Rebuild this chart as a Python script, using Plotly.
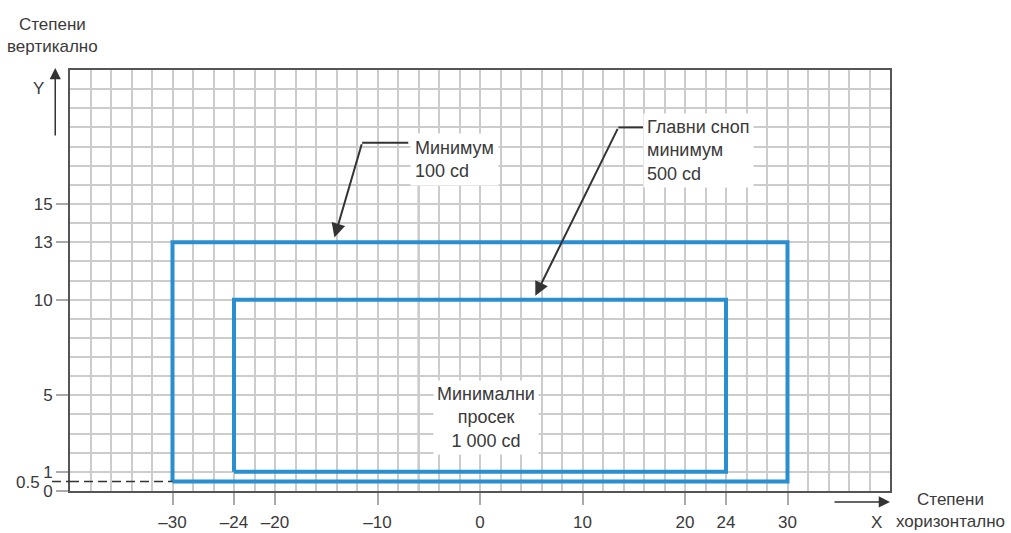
import plotly.graph_objects as go

# ---- data ----
outer_x = [-30, 30]          # minimum 100 cd zone (horizontal degrees)
outer_y = [0.5, 13]          # (vertical degrees)
inner_x = [-24, 24]          # main beam minimum 500 cd
inner_y = [1, 10]
x_tickvals = [-30, -24, -20, -10, 0, 10, 20, 24, 30]
x_ticktext = ["–30", "–24", "–20", "–10", "0", "10", "20", "24", "30"]
y_tickvals = [0, 1, 5, 10, 13, 15]
y_ticktext = ["0", "1", "5", "10", "13", "15"]
x_range = [-40, 40]
y_range = [0, 22]
label_outer = "Минимум<br>100 cd"
label_inner = "Главни сноп<br>минимум<br>500 cd"
label_avg = "Минимални<br>просек<br>1 000 cd"

FONT = "Liberation Sans Narrow, Arial Narrow, Liberation Sans, Arial, sans-serif"
BLUE = "#2a8fd0"
DARK = "#333333"
TXT = "#3a3a3a"
GRID = "#cccccc"


def rect(xs, ys):
    return ([xs[0], xs[1], xs[1], xs[0], xs[0]],
            [ys[0], ys[0], ys[1], ys[1], ys[0]])


fig = go.Figure()
for xs, ys in [(outer_x, outer_y), (inner_x, inner_y)]:
    rx, ry = rect(xs, ys)
    fig.add_trace(go.Scatter(x=rx, y=ry, mode="lines",
                             line=dict(color=BLUE, width=4),
                             hoverinfo="skip", showlegend=False))

shapes = [
    dict(type="line", xref="x", yref="y", x0=-6, x1=-6, y0=0, y1=16,
         line=dict(color="#777777", width=1.5), layer="below"),
    dict(type="line", xref="x", yref="y", x0=x_range[0], x1=outer_x[0],
         y0=outer_y[0], y1=outer_y[0],
         line=dict(color=DARK, width=1.5, dash="9px,5px")),
    dict(type="line", xref="paper", yref="y", x0=-0.022, x1=0,
         y0=outer_y[0], y1=outer_y[0],
         line=dict(color=DARK, width=1.5, dash="9px,5px")),
    dict(type="line", xref="x", yref="y", x0=-11.5, x1=-7.0, y0=18.2, y1=18.2,
         line=dict(color=DARK, width=2)),
    dict(type="line", xref="x", yref="y", x0=13.5, x1=15.9, y0=19.0, y1=19.0,
         line=dict(color=DARK, width=2)),
]

LBL = dict(family=FONT, size=18, color=TXT)
TTL = dict(family=FONT, size=17, color=TXT)

annotations = [
    dict(xref="x", yref="y", x=-6.8, y=17.3, text=label_outer, showarrow=False,
         xanchor="left", yanchor="middle", align="left", bgcolor="white",
         borderpad=4, font=LBL),
    dict(xref="x", yref="y", x=15.9, y=17.8, text=label_inner, showarrow=False,
         xanchor="left", yanchor="middle", align="left", bgcolor="white",
         borderpad=3, font=LBL),
    dict(xref="x", yref="y", x=0.6, y=3.85, text=label_avg, showarrow=False,
         xanchor="center", yanchor="middle", align="center", bgcolor="white",
         borderpad=3, font=LBL),
    dict(xref="x", yref="y", axref="x", ayref="y", x=-14.2, y=13.25,
         ax=-11.5, ay=18.2, text="", showarrow=True, arrowhead=2,
         arrowsize=1.4, arrowwidth=2, arrowcolor=DARK),
    dict(xref="x", yref="y", axref="x", ayref="y", x=5.4, y=10.2,
         ax=13.5, ay=19.0, text="", showarrow=True, arrowhead=2,
         arrowsize=1.4, arrowwidth=2, arrowcolor=DARK),
    dict(xref="paper", yref="paper", x=-0.018, y=1.005, ax=0, ay=69,
         text="", showarrow=True, arrowhead=2, arrowsize=1.5,
         arrowwidth=1.5, arrowcolor=DARK),
    dict(xref="paper", yref="paper", x=1.0, y=-0.026, ax=-57, ay=0,
         text="", showarrow=True, arrowhead=2, arrowsize=1.5,
         arrowwidth=1.5, arrowcolor=DARK),
    dict(xref="paper", yref="paper", x=-0.038, y=0.957, text="Y",
         showarrow=False, xanchor="center", yanchor="middle", font=TTL),
    dict(xref="paper", yref="paper", x=0.984, y=-0.074, text="X",
         showarrow=False, xanchor="center", yanchor="middle", font=TTL),
    dict(xref="paper", yref="paper", x=1.074, y=-0.0475,
         text="Степени<br>хоризонтално", showarrow=False,
         xanchor="center", yanchor="middle", align="center", font=TTL),
    dict(xref="paper", yref="paper", x=-0.021, y=1.083,
         text="Степени<br>вертикално", showarrow=False,
         xanchor="center", yanchor="middle", align="center", font=TTL),
    dict(xref="paper", yref="y", x=-0.034, y=0.45, text="0.5",
         showarrow=False, xanchor="right", yanchor="middle",
         font=dict(family=FONT, size=17, color=TXT)),
]

AX = dict(ticks="outside", ticklen=12, tickwidth=1.5, tickcolor="#aaaaaa",
          showgrid=True, gridcolor=GRID, gridwidth=1.5,
          showline=True, linecolor="#555555", linewidth=2, mirror=True,
          zeroline=False, fixedrange=True, automargin=False,
          tickfont=dict(family=FONT, size=17, color=TXT))

fig.update_layout(
    width=1011, height=533,
    margin=dict(l=70, r=121, t=70, b=42, autoexpand=False),
    paper_bgcolor="white", plot_bgcolor="white",
    font=dict(family=FONT, size=17, color=TXT),
    shapes=shapes, annotations=annotations,
    xaxis=dict(range=x_range, tickmode="array", tickvals=x_tickvals,
               ticktext=x_ticktext, ticklabelstandoff=3,
               minor=dict(tickmode="linear", tick0=0, dtick=2,
                          showgrid=True, gridcolor=GRID, gridwidth=1.5,
                          ticks=""), **AX),
    yaxis=dict(range=y_range, tickmode="array", tickvals=y_tickvals,
               ticktext=y_ticktext,
               minor=dict(tickmode="linear", tick0=0, dtick=1,
                          showgrid=True, gridcolor=GRID, gridwidth=1.5,
                          ticks=""), **AX),
)

fig.write_html(
    "out.html",
    config={"displayModeBar": False},
    post_script="document.body.style.margin='0';"
                "document.body.style.overflow='hidden';",
)
